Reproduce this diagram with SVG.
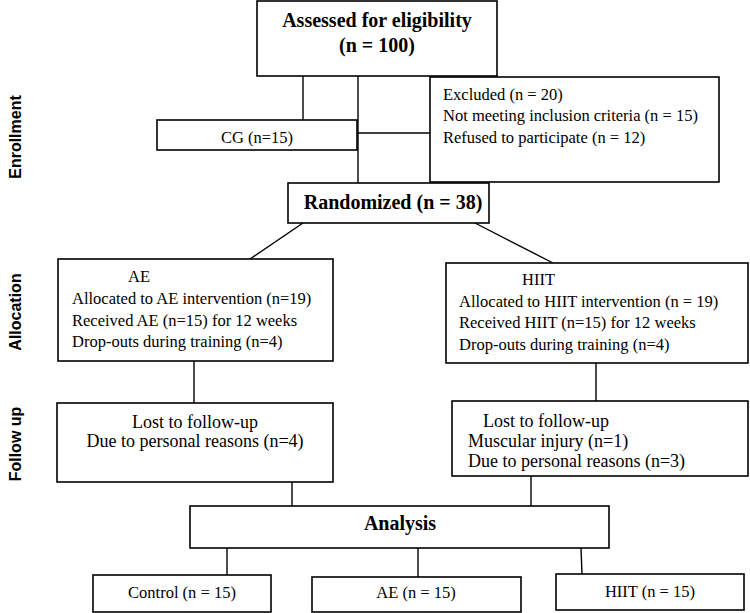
<svg xmlns="http://www.w3.org/2000/svg" width="750" height="613" viewBox="0 0 750 613">
<style>
.box{fill:#fff;stroke:#000;stroke-width:1.6}
.ln{stroke:#000;stroke-width:1.4;fill:none}
.t{font-family:"Liberation Serif","Times New Roman",serif;font-size:16.5px;fill:#000}
.f{font-size:18px}
.b{font-family:"Liberation Serif","Times New Roman",serif;font-size:20px;font-weight:bold;fill:#000}
.c{text-anchor:middle}
.side{font-family:"Liberation Sans",Arial,sans-serif;font-size:16px;font-weight:bold;fill:#000;text-anchor:middle}
</style>
<rect width="750" height="613" fill="#fff"/>
<g id="connectors">
<line class="ln" x1="303" y1="76" x2="303" y2="120"/>
<line class="ln" x1="358" y1="76" x2="358" y2="183"/>
<line class="ln" x1="358" y1="133" x2="430" y2="133"/>
<line class="ln" x1="303" y1="223" x2="250" y2="259"/>
<line class="ln" x1="475" y1="223" x2="553" y2="263"/>
<line class="ln" x1="194" y1="361" x2="194" y2="403"/>
<line class="ln" x1="596" y1="363" x2="596" y2="401"/>
<line class="ln" x1="292" y1="482" x2="292" y2="506"/>
<line class="ln" x1="531" y1="476" x2="531" y2="506"/>
<line class="ln" x1="227" y1="548" x2="227" y2="575"/>
<line class="ln" x1="418" y1="548" x2="418" y2="577"/>
<line class="ln" x1="581" y1="548" x2="582" y2="574"/>
</g>
<g id="side-labels">
<text class="side" transform="translate(20.5,137) rotate(-90)">Enrollment</text>
<text class="side" transform="translate(20.5,312) rotate(-90)">Allocation</text>
<text class="side" transform="translate(20.5,444) rotate(-90)">Follow up</text>
</g>
<g id="assessed">
<rect class="box" x="257" y="1" width="240" height="75"/>
<text class="b c" x="377" y="27">Assessed for eligibility</text>
<text class="b c" x="377" y="52">(n = 100)</text>
</g>
<g id="cg">
<rect class="box" x="157" y="120" width="200" height="30"/>
<text class="t c" x="257" y="143">CG (n=15)</text>
</g>
<g id="excluded">
<rect class="box" x="430" y="77" width="289" height="105"/>
<text class="t" x="443" y="100">Excluded (n = 20)</text>
<text class="t" x="443" y="121">Not meeting inclusion criteria (n = 15)</text>
<text class="t" x="443" y="143">Refused to participate (n = 12)</text>
</g>
<g id="randomized">
<rect class="box" x="288" y="183" width="201" height="40"/>
<text class="b c" x="393" y="209">Randomized (n = 38)</text>
</g>
<g id="ae-allocation">
<rect class="box" x="58" y="259" width="275" height="102"/>
<text class="t" x="128" y="282">AE</text>
<text class="t" x="72" y="304">Allocated to AE intervention (n=19)</text>
<text class="t" x="72" y="326">Received AE (n=15) for 12 weeks</text>
<text class="t" x="72" y="347">Drop-outs during training (n=4)</text>
</g>
<g id="hiit-allocation">
<rect class="box" x="446" y="263" width="302" height="100"/>
<text class="t" x="522" y="285">HIIT</text>
<text class="t" x="459" y="307">Allocated to HIIT intervention (n = 19)</text>
<text class="t" x="459" y="328">Received HIIT (n=15) for 12 weeks</text>
<text class="t" x="459" y="350">Drop-outs during training (n=4)</text>
</g>
<g id="ae-followup">
<rect class="box" x="57" y="403" width="276" height="79"/>
<text class="t f c" x="195" y="428">Lost to follow-up</text>
<text class="t f c" x="195" y="447">Due to personal reasons (n=4)</text>
</g>
<g id="hiit-followup">
<rect class="box" x="452" y="401" width="296" height="75"/>
<text class="t f" x="483" y="427">Lost to follow-up</text>
<text class="t f" x="468" y="447">Muscular injury (n=1)</text>
<text class="t f" x="468" y="467">Due to personal reasons (n=3)</text>
</g>
<g id="analysis">
<rect class="box" x="190" y="506" width="419" height="42"/>
<text class="b c" x="400" y="530">Analysis</text>
</g>
<g id="control">
<rect class="box" x="93" y="575" width="178" height="37"/>
<text class="t c" x="182" y="598">Control (n = 15)</text>
</g>
<g id="ae-analysis">
<rect class="box" x="312" y="577" width="209" height="35"/>
<text class="t c" x="416" y="598">AE (n = 15)</text>
</g>
<g id="hiit-analysis">
<rect class="box" x="556" y="574" width="188" height="36"/>
<text class="t c" x="650" y="597">HIIT (n = 15)</text>
</g>
</svg>
